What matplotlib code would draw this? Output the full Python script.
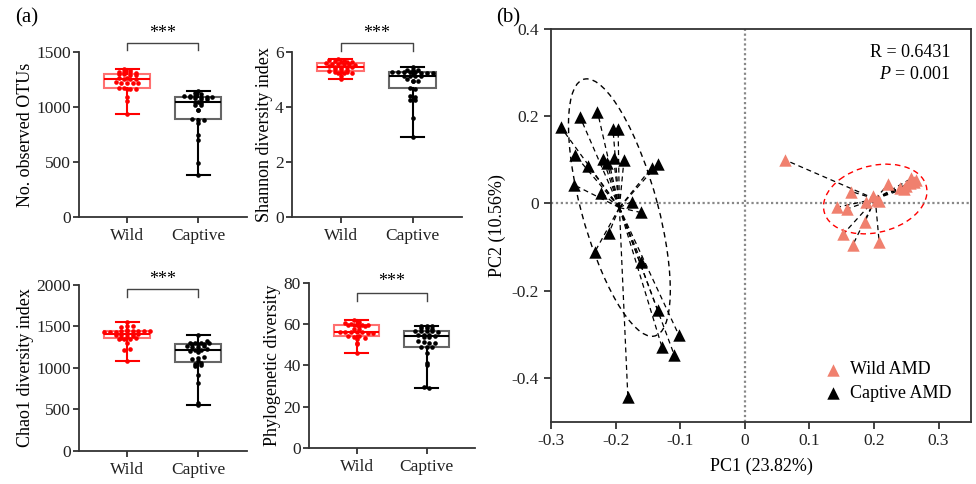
import numpy as np
import matplotlib
matplotlib.use('Agg')
from matplotlib import pyplot as plt
from matplotlib.patches import Ellipse

plt.rcParams['font.family'] = ['Liberation Serif', 'DejaVu Serif']
plt.rcParams['mathtext.fontset'] = 'custom'
plt.rcParams['mathtext.rm'] = 'Liberation Serif'
plt.rcParams['mathtext.it'] = 'Liberation Serif:italic'

# ---- panel (a) data ----
groups = ['Wild', 'Captive']

wild_otus = [1343, 1340, 1322, 1318, 1315, 1312, 1298, 1296, 1294, 1290, 1265, 1260, 1255, 1252,
             1250, 1225, 1222, 1220, 1218, 1215, 1172, 1170, 1168, 1165, 1160, 1095, 1058, 936]
cap_otus = [1142, 1125, 1118, 1100, 1098, 1096, 1095, 1094, 1092, 1090, 1080, 1076, 1070, 1045,
            1042, 1040, 1020, 1015, 975, 970, 890, 886, 882, 850, 745, 700, 488, 380]

wild_shannon = [5.73, 5.72, 5.70, 5.66, 5.65, 5.64, 5.62, 5.59, 5.58, 5.57, 5.56, 5.55, 5.54, 5.48,
                5.47, 5.46, 5.45, 5.44, 5.38, 5.37, 5.35, 5.31, 5.29, 5.28, 5.27, 5.25, 5.23, 5.22,
                5.13, 5.01]
cap_shannon = [5.44, 5.36, 5.35, 5.34, 5.27, 5.27, 5.26, 5.26, 5.26, 5.25, 5.25, 5.24, 5.23, 5.13,
               5.13, 5.12, 5.11, 5.03, 4.96, 4.95, 4.94, 4.70, 4.67, 4.40, 4.37, 4.27, 4.25, 3.60,
               2.90]

wild_chao = [1088, 1222, 1228, 1298, 1345, 1350, 1355, 1360, 1365, 1378, 1380, 1395, 1400, 1405,
             1408, 1412, 1430, 1436, 1438, 1440, 1440, 1442, 1445, 1448, 1450, 1458, 1495, 1500,
             1505, 1555]
cap_chao = [554, 574, 815, 916, 1020, 1030, 1050, 1060, 1090, 1110, 1125, 1130, 1190, 1205, 1215,
            1220, 1225, 1250, 1255, 1260, 1265, 1290, 1292, 1294, 1296, 1298, 1300, 1302, 1320, 1398]

wild_pd = [62.0, 60.9, 60.7, 59.9, 59.8, 59.7, 59.6, 59.5, 59.4, 59.3, 59.2, 57.8, 57.7, 56.4,
           56.3, 56.2, 56.1, 56.0, 55.9, 55.8, 54.1, 54.0, 54.3, 53.3, 53.0, 50.8, 50.3, 45.9]
cap_pd = [59.3, 59.2, 59.0, 58.1, 58.0, 57.9, 56.8, 56.7, 56.6, 56.5, 56.4, 55.0, 54.8, 54.6,
          54.5, 54.0, 53.8, 51.7, 51.5, 50.9, 50.7, 49.2, 49.1, 49.0, 46.2, 41.0, 40.2, 29.7, 28.9]

# ---- panel (b) data ----
wild_pc1 = [0.063, 0.165, 0.222, 0.198, 0.187, 0.208, 0.258, 0.265, 0.255, 0.246, 0.143, 0.158,
            0.186, 0.152, 0.167, 0.208, 0.262, 0.250, 0.240, 0.205]
wild_pc2 = [0.099, 0.027, 0.044, 0.017, 0.004, 0.005, 0.057, 0.053, 0.046, 0.033, -0.009, -0.013,
            -0.042, -0.071, -0.096, -0.089, 0.050, 0.040, 0.035, 0.008]
cap_pc1 = [-0.285, -0.255, -0.228, -0.204, -0.196, -0.263, -0.242, -0.219, -0.213, -0.203, -0.187,
           -0.144, -0.134, -0.264, -0.222, -0.175, -0.161, -0.210, -0.232, -0.160, -0.135, -0.102,
           -0.128, -0.109, -0.181]
cap_pc2 = [0.175, 0.198, 0.210, 0.170, 0.170, 0.111, 0.085, 0.101, 0.092, 0.103, 0.099, 0.082,
           0.090, 0.042, 0.024, 0.004, -0.021, -0.067, -0.111, -0.134, -0.244, -0.302, -0.330,
           -0.348, -0.443]

RED = '#FF0000'
SALMON = '#F0806E'
AXC = '#333333'


def swarm_x(vals, center, binw, dx):
    vals = np.asarray(vals, dtype=float)
    rows = np.round(vals / binw).astype(int)
    xs = np.empty(len(vals))
    for r in np.unique(rows):
        idx = np.where(rows == r)[0]
        n = len(idx)
        xs[idx] = center + (np.arange(n) - (n - 1) / 2) * dx
    return xs


def box_panel(ax, wild, cap, ymax, step, ylabel, lab_x, br_y, br_tick, star_y):
    for i, (vals, col, edge) in enumerate([(wild, RED, '#FF7070'), (cap, 'black', '#666666')]):
        ax.boxplot([vals], positions=[i], widths=0.65, whis=(0, 100), showfliers=False,
                   patch_artist=True,
                   boxprops=dict(facecolor='none', edgecolor=edge, linewidth=1.5),
                   medianprops=dict(color=col, linewidth=1.5),
                   whiskerprops=dict(color=col, linewidth=1.5),
                   capprops=dict(color=col, linewidth=1.5))
        xs = swarm_x(vals, i, ymax * 0.016, 0.08)
        ax.scatter(xs, vals, s=11, color=col, zorder=3, linewidths=0)
    ax.set_xlim(-0.68, 1.69)
    ax.set_ylim(0, ymax)
    ax.set_yticks(np.arange(0, ymax + step / 2, step))
    ax.set_xticks([0, 1])
    ax.set_xticklabels(groups)
    ax.set_ylabel(ylabel, fontsize=13)
    ax.yaxis.set_label_coords(lab_x, 0.5)
    for s in ['top', 'right']:
        ax.spines[s].set_visible(False)
    for s in ['left', 'bottom']:
        ax.spines[s].set_linewidth(1.3)
        ax.spines[s].set_color(AXC)
    ax.tick_params(labelsize=12.5, width=1.3, length=4, pad=2, color=AXC, colors='#222222')
    ax.tick_params(axis='x', pad=4)
    ax.plot([0, 0, 1, 1], [br_tick, br_y, br_y, br_tick], color='#444444', lw=1.0, clip_on=False)
    ax.text(0.5, star_y, '***', ha='center', va='center', fontsize=13, clip_on=False)


fig = plt.figure(figsize=(9.76, 4.84), dpi=100)

ax1 = fig.add_axes([0.0809, 0.5517, 0.1721, 0.3409])
box_panel(ax1, wild_otus, cap_otus, 1500, 500, 'No. observed OTUs', -0.265, 1580, 1515, 1670)
ax2 = fig.add_axes([0.2992, 0.5517, 0.1742, 0.3409])
box_panel(ax2, wild_shannon, cap_shannon, 6, 2, 'Shannon diversity index', -0.11, 6.32, 6.05, 6.68)
ax3 = fig.add_axes([0.0809, 0.0682, 0.1721, 0.3430])
box_panel(ax3, wild_chao, cap_chao, 2000, 500, 'Chao1 diversity index', -0.265, 1950, 1860, 2060)
ax4 = fig.add_axes([0.3166, 0.0744, 0.1701, 0.3409])
box_panel(ax4, wild_pd, cap_pd, 80, 20, 'Phylogenetic diversity', -0.17, 75.0, 71.4, 80.8)

# ---- panel (b) ----
axb = fig.add_axes([0.5645, 0.1289, 0.4303, 0.8118])
axb.axhline(0, color='#888888', lw=1.6, ls=(0, (1, 1.2)), zorder=0)
axb.axvline(0, color='#888888', lw=1.6, ls=(0, (1, 1.2)), zorder=0)


def group_plot(x, y, col, ecol, label, k=1.56):
    x = np.asarray(x)
    y = np.asarray(y)
    cx, cy = x.mean(), y.mean()
    for xi, yi in zip(x, y):
        axb.plot([cx, xi], [cy, yi], color='black', lw=0.9, ls=(0, (4, 3)), zorder=1)
    cov = np.cov(x, y)
    vals, vecs = np.linalg.eigh(cov)
    ang = np.degrees(np.arctan2(vecs[1, 1], vecs[0, 1]))
    w, h = 2 * k * np.sqrt(vals[1]), 2 * k * np.sqrt(vals[0])
    axb.add_patch(Ellipse((cx, cy), w, h, angle=ang, fill=False, ec=ecol, lw=1.0,
                          ls=(0, (4, 3)), zorder=1))
    axb.scatter(x, y, marker='^', s=80, color=col, linewidths=0, zorder=3, label=label)


group_plot(wild_pc1, wild_pc2, SALMON, RED, 'Wild AMD')
group_plot(cap_pc1, cap_pc2, 'black', 'black', 'Captive AMD')

axb.set_xlim(-0.3, 0.35)
axb.set_ylim(-0.5, 0.4)
axb.set_xticks([-0.3, -0.2, -0.1, 0, 0.1, 0.2, 0.3])
axb.set_xticklabels(['-0.3', '-0.2', '-0.1', '0', '0.1', '0.2', '0.3'])
axb.set_yticks([-0.4, -0.2, 0, 0.2, 0.4])
axb.set_yticklabels(['-0.4', '-0.2', '0', '0.2', '0.4'])
for s in axb.spines.values():
    s.set_linewidth(1.3)
    s.set_color(AXC)
axb.tick_params(labelsize=12.5, width=1.3, length=5, color=AXC, colors='#222222')
axb.set_xlabel('PC1 (23.82%)', fontsize=13, labelpad=6)
axb.set_ylabel('PC2 (10.56%)', fontsize=13, labelpad=4)
axb.text(0.318, 0.345, 'R = 0.6431', ha='right', va='center', fontsize=13)
axb.text(0.318, 0.295, r'$P$ = 0.001', ha='right', va='center', fontsize=13)
axb.legend(loc='lower right', frameon=False, fontsize=13, handletextpad=0.3,
           borderaxespad=0.7, labelspacing=0.35, handlelength=1.2)

fig.text(0.015, 0.963, '(a)', fontsize=15, va='center')
fig.text(0.508, 0.963, '(b)', fontsize=15, va='center')

fig.savefig('out.png', dpi=100)
